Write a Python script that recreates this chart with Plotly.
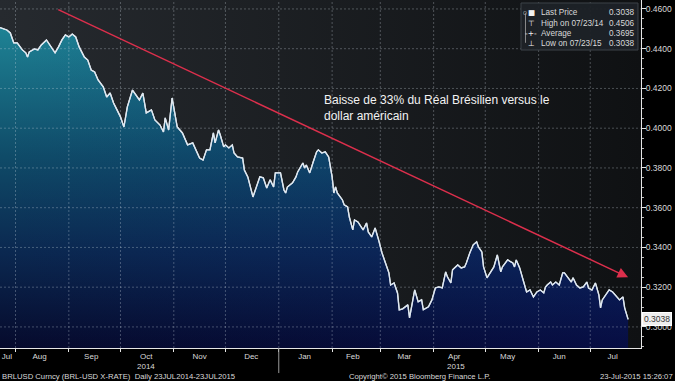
import plotly.graph_objects as go

# ---------------- data ----------------
dates = [
    "2014-07-23", "2014-07-25", "2014-07-27", "2014-07-29", "2014-07-31", "2014-08-02", "2014-08-04",
    "2014-08-05", "2014-08-07", "2014-08-08", "2014-08-09", "2014-08-12", "2014-08-14", "2014-08-16",
    "2014-08-19", "2014-08-21", "2014-08-24", "2014-08-26", "2014-08-28", "2014-08-30", "2014-09-01",
    "2014-09-03", "2014-09-05", "2014-09-07", "2014-09-10", "2014-09-12", "2014-09-14", "2014-09-16",
    "2014-09-18", "2014-09-21", "2014-09-23", "2014-09-25", "2014-09-27", "2014-09-29", "2014-10-01",
    "2014-10-03", "2014-10-05", "2014-10-08", "2014-10-11", "2014-10-12", "2014-10-14", "2014-10-16",
    "2014-10-19", "2014-10-21", "2014-10-24", "2014-10-26", "2014-10-27", "2014-10-29", "2014-10-31",
    "2014-11-02", "2014-11-03", "2014-11-06", "2014-11-09", "2014-11-12", "2014-11-14", "2014-11-16",
    "2014-11-18", "2014-11-20", "2014-11-22", "2014-11-23", "2014-11-24", "2014-11-25", "2014-11-27",
    "2014-11-28", "2014-11-30", "2014-12-01", "2014-12-03", "2014-12-05", "2014-12-06", "2014-12-08",
    "2014-12-11", "2014-12-12", "2014-12-14", "2014-12-17", "2014-12-19", "2014-12-21", "2014-12-23",
    "2014-12-25", "2014-12-27", "2014-12-29", "2014-12-30", "2015-01-02", "2015-01-04", "2015-01-05",
    "2015-01-06", "2015-01-09", "2015-01-11", "2015-01-12", "2015-01-15", "2015-01-16", "2015-01-17",
    "2015-01-19", "2015-01-21", "2015-01-23", "2015-01-24", "2015-01-26", "2015-01-28", "2015-01-30",
    "2015-02-01", "2015-02-02", "2015-02-03", "2015-02-04", "2015-02-07", "2015-02-08", "2015-02-10",
    "2015-02-11", "2015-02-13", "2015-02-14", "2015-02-16", "2015-02-17", "2015-02-19", "2015-02-21",
    "2015-02-22", "2015-02-24", "2015-02-26", "2015-02-28", "2015-03-02", "2015-03-04", "2015-03-06",
    "2015-03-07", "2015-03-09", "2015-03-11", "2015-03-12", "2015-03-14", "2015-03-17", "2015-03-18",
    "2015-03-20", "2015-03-21", "2015-03-23", "2015-03-25", "2015-03-26", "2015-03-29", "2015-03-31",
    "2015-04-02", "2015-04-04", "2015-04-06", "2015-04-08", "2015-04-09", "2015-04-11", "2015-04-12",
    "2015-04-15", "2015-04-17", "2015-04-19", "2015-04-20", "2015-04-22", "2015-04-24", "2015-04-26",
    "2015-04-27", "2015-04-29", "2015-04-30", "2015-05-02", "2015-05-04", "2015-05-06", "2015-05-08",
    "2015-05-10", "2015-05-11", "2015-05-13", "2015-05-14", "2015-05-17", "2015-05-18", "2015-05-19",
    "2015-05-21", "2015-05-23", "2015-05-24", "2015-05-25", "2015-05-27", "2015-05-29", "2015-05-31",
    "2015-06-02", "2015-06-04", "2015-06-05", "2015-06-06", "2015-06-08", "2015-06-09", "2015-06-11",
    "2015-06-13", "2015-06-15", "2015-06-16", "2015-06-18", "2015-06-20", "2015-06-21", "2015-06-23",
    "2015-06-25", "2015-06-27", "2015-06-29", "2015-06-30", "2015-07-02", "2015-07-04", "2015-07-06",
    "2015-07-07", "2015-07-08", "2015-07-11", "2015-07-12", "2015-07-14", "2015-07-17", "2015-07-18",
    "2015-07-20", "2015-07-21", "2015-07-23",
]
values = [
    0.4506, 0.4500, 0.4494, 0.4479, 0.4429, 0.4429, 0.4404,
    0.4394, 0.4379, 0.4358, 0.4384, 0.4399, 0.4394, 0.4419,
    0.4444, 0.4419, 0.4379, 0.4409, 0.4444, 0.4469, 0.4459,
    0.4474, 0.4459, 0.4409, 0.4358, 0.4343, 0.4293, 0.4283,
    0.4243, 0.4208, 0.4157, 0.4177, 0.4127, 0.4092, 0.4057,
    0.4006, 0.4107, 0.4192, 0.4157, 0.4142, 0.4177, 0.4077,
    0.4092, 0.4042, 0.4016, 0.3981, 0.4052, 0.3991, 0.4152,
    0.4057, 0.4006, 0.3976, 0.3916, 0.3926, 0.3891, 0.3850,
    0.3840, 0.3891, 0.3891, 0.3931, 0.3976, 0.3926, 0.3991,
    0.3966, 0.3906, 0.3916, 0.3901, 0.3916, 0.3875, 0.3855,
    0.3850, 0.3790, 0.3755, 0.3654, 0.3704, 0.3755, 0.3750,
    0.3699, 0.3740, 0.3704, 0.3775, 0.3775, 0.3689, 0.3674,
    0.3704, 0.3725, 0.3755, 0.3780, 0.3825, 0.3800, 0.3815,
    0.3775, 0.3830, 0.3881, 0.3891, 0.3875, 0.3881, 0.3855,
    0.3755, 0.3674, 0.3704, 0.3674, 0.3639, 0.3614, 0.3604,
    0.3553, 0.3488, 0.3538, 0.3528, 0.3513, 0.3488, 0.3523,
    0.3478, 0.3453, 0.3498, 0.3438, 0.3372, 0.3322, 0.3272,
    0.3211, 0.3221, 0.3171, 0.3086, 0.3091, 0.3111, 0.3045,
    0.3136, 0.3186, 0.3126, 0.3136, 0.3086, 0.3101, 0.3136,
    0.3196, 0.3201, 0.3196, 0.3277, 0.3252, 0.3221, 0.3287,
    0.3312, 0.3297, 0.3302, 0.3322, 0.3372, 0.3413, 0.3428,
    0.3403, 0.3377, 0.3302, 0.3247, 0.3272, 0.3302, 0.3362,
    0.3277, 0.3302, 0.3327, 0.3337, 0.3322, 0.3302, 0.3337,
    0.3297, 0.3236, 0.3211, 0.3176, 0.3186, 0.3151, 0.3176,
    0.3186, 0.3171, 0.3201, 0.3211, 0.3226, 0.3211, 0.3226,
    0.3211, 0.3272, 0.3272, 0.3247, 0.3226, 0.3247, 0.3211,
    0.3196, 0.3201, 0.3226, 0.3196, 0.3186, 0.3221, 0.3161,
    0.3096, 0.3136, 0.3176, 0.3186, 0.3176, 0.3146, 0.3136,
    0.3151, 0.3096, 0.3038,
]

y_ticks = [0.30, 0.32, 0.34, 0.36, 0.38, 0.40, 0.42, 0.44, 0.46]
month_starts = ["2014-08-01", "2014-09-01", "2014-10-01", "2014-11-01", "2014-12-01", "2015-01-01",
                "2015-02-01", "2015-03-01", "2015-04-01", "2015-05-01", "2015-06-01", "2015-07-01"]
month_label_dates = ["2014-07-27", "2014-08-15", "2014-09-14", "2014-10-16", "2014-11-16", "2014-12-16",
                     "2015-01-16", "2015-02-13", "2015-03-15", "2015-04-13", "2015-05-14", "2015-06-13",
                     "2015-07-14"]
month_labels = ["Jul", "Aug", "Sep", "Oct", "Nov", "Dec", "Jan", "Feb", "Mar", "Apr", "May", "Jun", "Jul"]
year_label_dates = ["2014-10-16", "2015-04-14"]
year_labels = ["2014", "2015"]
year_separator = "2015-01-01"

legend_icons = ["\u25a0", "\u22a4", "-+-", "\u22a5"]
legend_names = ["Last Price", "High on 07/23/14", "Average", "Low on 07/23/15"]
legend_values = ["0.3038", "0.4506", "0.3695", "0.3038"]
last_price = 0.3038

arrow_start = ("2014-08-25", 0.4600)
arrow_end = ("2015-07-23", 0.3250)
note_text = "Baisse de 33% du Réal Brésilien versus le<br>dollar américain"

x_range = ["2014-07-23", "2015-07-30 12:00"]
y_range = [0.2894, 0.4645]

FONT = "Liberation Sans, Arial, sans-serif"
TXT = "#d9d9d9"

fig = go.Figure()

# background (dark gray fading to near-black to the right)
fig.add_trace(go.Scatter(
    x=[x_range[0], x_range[1], x_range[1], x_range[0], x_range[0]],
    y=[y_range[0], y_range[0], y_range[1], y_range[1], y_range[0]],
    mode="none", fill="toself", hoverinfo="skip", showlegend=False,
    fillgradient=dict(type="horizontal", colorscale=[[0, "#262a2f"], [1, "#0f1113"]]),
))

# main area fill with vertical gradient
fig.add_trace(go.Scatter(
    x=dates, y=values, mode="lines", fill="tozeroy",
    line=dict(color="#dfe8f0", width=1.3),
    fillgradient=dict(type="vertical", start=y_range[0], stop=0.45,
                      colorscale=[[0, "#060a2c"], [0.3, "#0b2850"], [0.6, "#0f4b68"], [1, "#1e8294"]]),
    hoverinfo="skip", showlegend=False,
))
# blue tint towards the right
fig.add_trace(go.Scatter(
    x=dates, y=values, mode="none", fill="tozeroy",
    fillgradient=dict(type="horizontal",
                      colorscale=[[0, "rgba(10,20,120,0)"], [0.5, "rgba(10,20,120,0.12)"], [1, "rgba(10,20,120,0.3)"]]),
    hoverinfo="skip", showlegend=False,
))
# redraw line on top
fig.add_trace(go.Scatter(
    x=dates, y=values, mode="lines", line=dict(color="#dfe8f0", width=1.3),
    hoverinfo="skip", showlegend=False,
))

shapes = []
grid_col = "rgba(210,220,230,0.30)"
for yv in y_ticks:
    shapes.append(dict(type="line", xref="paper", yref="y", x0=0, x1=1, y0=yv, y1=yv,
                       line=dict(color=grid_col, width=1, dash="2px,2px"), layer="above"))
for ms in month_starts:
    shapes.append(dict(type="line", xref="x", yref="paper", x0=ms, x1=ms, y0=0, y1=1,
                       line=dict(color=grid_col, width=1, dash="2px,2px"), layer="above"))
# year separator below axis
shapes.append(dict(type="line", xref="x", yref="paper", x0=year_separator, x1=year_separator,
                   y0=0, y1=-0.072, line=dict(color="#9a9a9a", width=1)))
# legend box
shapes.append(dict(type="rect", xref="paper", yref="paper", x0=0.8128, x1=0.9953, y0=0.8563, y1=0.9914,
                   fillcolor="rgba(30,34,39,0.95)", line=dict(color="#3d4248", width=1), layer="above"))
shapes.append(dict(type="line", xref="paper", yref="paper", x0=0.8198, x1=0.8198, y0=0.877, y1=0.962,
                   line=dict(color="#8a8a8a", width=1), layer="above"))

annotations = []
legend_y = [0.964, 0.933, 0.904, 0.875]
for icon, name, val, yy in zip(legend_icons, legend_names, legend_values, legend_y):
    annotations.append(dict(xref="paper", yref="paper", x=0.829, y=yy, text=icon, showarrow=False,
                            xanchor="center", yanchor="middle",
                            font=dict(family="DejaVu Sans", size=7.5, color="#f0f0f0")))
    annotations.append(dict(xref="paper", yref="paper", x=0.841, y=yy, text=name, showarrow=False,
                            xanchor="left", yanchor="middle", font=dict(family=FONT, size=8.2, color=TXT)))
    annotations.append(dict(xref="paper", yref="paper", x=0.992, y=yy, text=val, showarrow=False,
                            xanchor="right", yanchor="middle", font=dict(family=FONT, size=8.2, color=TXT)))
annotations.append(dict(xref="paper", yref="paper", x=0.8198, y=0.964, text="o", showarrow=False,
                        xanchor="center", yanchor="middle", font=dict(family=FONT, size=7, color="#9a9a9a")))

# red trend arrow
annotations.append(dict(x=arrow_end[0], y=arrow_end[1], ax=arrow_start[0], ay=arrow_start[1],
                        xref="x", yref="y", axref="x", ayref="y", text="", showarrow=True,
                        arrowhead=2, arrowsize=1.4, arrowwidth=1.5, arrowcolor="#dc2f4c"))
# note
annotations.append(dict(xref="paper", yref="paper", x=0.502, y=0.738, text=note_text, showarrow=False,
                        xanchor="left", yanchor="top", align="left",
                        font=dict(family=FONT, size=12, color="#f2f2f2")))
# year labels
for d, t in zip(year_label_dates, year_labels):
    annotations.append(dict(xref="x", yref="paper", x=d, y=-0.053, text=t, showarrow=False,
                            xanchor="center", yanchor="middle", font=dict(family=FONT, size=8, color=TXT)))
# last price marker on axis
annotations.append(dict(xref="paper", yref="y", x=1, xshift=1, y=last_price, text=f"{last_price:.4f}",
                        showarrow=False, xanchor="left", yanchor="middle", bgcolor="#eeeeee",
                        bordercolor="#ffffff", borderpad=1, font=dict(family=FONT, size=8.5, color="#333333")))
# footer
annotations.append(dict(xref="paper", yref="paper", x=0.0, y=-0.0805,
                        text="BRLUSD Curncy (BRL-USD X-RATE)  Daily 23JUL2014-23JUL2015",
                        showarrow=False, xanchor="left", yanchor="middle", font=dict(family=FONT, size=7.7, color=TXT)))
annotations.append(dict(xref="paper", yref="paper", x=0.655, y=-0.0805,
                        text="Copyright\u00a9 2015 Bloomberg Finance L.P.",
                        showarrow=False, xanchor="center", yanchor="middle", font=dict(family=FONT, size=7.7, color=TXT)))
annotations.append(dict(xref="paper", yref="paper", x=1.053, y=-0.0805, text="23-Jul-2015 15:26:07",
                        showarrow=False, xanchor="right", yanchor="middle", font=dict(family=FONT, size=7.7, color=TXT)))

fig.update_layout(
    width=675, height=381,
    margin=dict(l=0, r=34, t=0, b=33),
    paper_bgcolor="#000000", plot_bgcolor="#16181b",
    showlegend=False,
    shapes=shapes, annotations=annotations,
    xaxis=dict(range=x_range, type="date", showgrid=False, zeroline=False,
               tickmode="array", tickvals=month_label_dates, ticktext=month_labels, ticks="",
               tickfont=dict(family=FONT, size=8, color=TXT),
               showline=True, linecolor="#e6e6e6", linewidth=1,
               minor=dict(ticks="outside", ticklen=3, tickcolor="#e6e6e6", dtick="M1",
                          tick0="2014-08-01", showgrid=False)),
    yaxis=dict(range=y_range, side="right", showgrid=False, zeroline=False, automargin=False,
               tickmode="array", tickvals=y_ticks, tickformat=".4f", ticks="outside", ticklen=4,
               ticklabelstandoff=-2,
               tickcolor="#e6e6e6", tickfont=dict(family=FONT, size=8.5, color=TXT),
               showline=True, linecolor="#e6e6e6", linewidth=1,
               minor=dict(ticks="outside", ticklen=2, tickcolor="#bbbbbb", dtick=0.005, showgrid=False)),
)

fig.write_html("out.html", config={"displayModeBar": False},
               post_script="document.body.style.margin='0px';document.body.style.background='#000';")
